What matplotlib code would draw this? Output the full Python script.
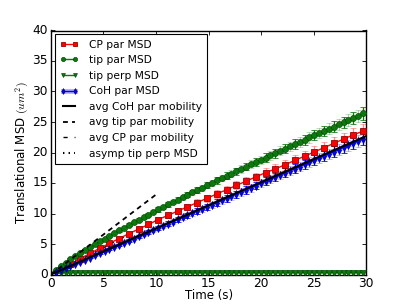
import numpy as np
import matplotlib
matplotlib.use("Agg")
import matplotlib.pyplot as plt

plt.style.use('classic')
plt.rcParams['figure.facecolor'] = 'white'
plt.rcParams['savefig.facecolor'] = 'white'
plt.rcParams['font.family'] = ['DejaVu Sans']

# --- data ---
t_fine = np.arange(1, 65) * 0.464        # time points for 0.5 s series
t_cp = np.arange(1, 33) * 0.928          # time points for CP series

cp_par = [0.9, 1.75, 2.6, 3.45, 4.3, 5.1, 5.9, 6.7, 7.45, 8.2, 9.0,
          9.7, 10.4, 11.1, 11.8, 12.5, 13.2, 13.9, 14.6, 15.3, 16.0, 16.7,
          17.3, 18.0, 18.7, 19.4, 20.1, 20.8, 21.5, 22.2, 22.9, 23.5]
cp_err = [0.03, 0.07, 0.10, 0.14, 0.17, 0.21, 0.24, 0.27, 0.31, 0.34, 0.38,
          0.41, 0.45, 0.48, 0.51, 0.55, 0.58, 0.62, 0.65, 0.69, 0.72, 0.75,
          0.79, 0.82, 0.86, 0.89, 0.93, 0.96, 0.99, 1.03, 1.06, 1.10]

tip_par = [0.80, 1.40, 1.95, 2.50, 3.00, 3.50, 4.00, 4.48, 4.95, 5.43,
           5.89, 6.35, 6.80, 7.25, 7.69, 8.13, 8.56, 8.99, 9.41, 9.83,
           10.25, 10.66, 11.07, 11.48, 11.88, 12.29, 12.68, 13.08, 13.47, 13.87,
           14.26, 14.64, 15.03, 15.41, 15.80, 16.18, 16.55, 16.93, 17.30, 17.68,
           18.06, 18.43, 18.80, 19.17, 19.54, 19.91, 20.28, 20.65, 21.01, 21.38,
           21.74, 22.10, 22.46, 22.82, 23.17, 23.53, 23.89, 24.24, 24.60, 24.95,
           25.30, 25.65, 26.05, 26.40]
tip_par_err = [0.02, 0.03, 0.05, 0.06, 0.08, 0.09, 0.11, 0.13, 0.14, 0.16,
               0.17, 0.19, 0.21, 0.22, 0.24, 0.25, 0.27, 0.28, 0.30, 0.32,
               0.33, 0.35, 0.36, 0.38, 0.39, 0.41, 0.43, 0.44, 0.46, 0.47,
               0.49, 0.50, 0.52, 0.54, 0.55, 0.57, 0.58, 0.60, 0.62, 0.63,
               0.65, 0.66, 0.68, 0.69, 0.71, 0.73, 0.74, 0.76, 0.77, 0.79,
               0.80, 0.82, 0.84, 0.85, 0.87, 0.88, 0.90, 0.91, 0.93, 0.95,
               0.96, 0.98, 0.99, 1.01]

tip_perp = [0.20, 0.27, 0.30, 0.31, 0.30, 0.31, 0.30, 0.31, 0.31, 0.30,
            0.31, 0.30, 0.31, 0.31, 0.30, 0.31, 0.30, 0.30, 0.31, 0.31,
            0.30, 0.31, 0.30, 0.31, 0.31, 0.30, 0.31, 0.30, 0.31, 0.30,
            0.31, 0.31, 0.30, 0.31, 0.30, 0.31, 0.31, 0.30, 0.31, 0.30,
            0.31, 0.30, 0.31, 0.31, 0.30, 0.31, 0.30, 0.31, 0.30, 0.31,
            0.31, 0.30, 0.31, 0.30, 0.31, 0.31, 0.30, 0.31, 0.30, 0.31,
            0.30, 0.31, 0.31, 0.30]
tip_perp_err = [0.03, 0.05, 0.06, 0.07, 0.07, 0.08, 0.08, 0.08, 0.09, 0.09,
                0.09, 0.09, 0.10, 0.10, 0.10, 0.10, 0.10, 0.10, 0.10, 0.10,
                0.11, 0.11, 0.11, 0.11, 0.11, 0.11, 0.11, 0.11, 0.11, 0.11,
                0.12, 0.12, 0.12, 0.12, 0.12, 0.12, 0.12, 0.12, 0.12, 0.12,
                0.12, 0.12, 0.12, 0.12, 0.12, 0.12, 0.12, 0.12, 0.12, 0.12,
                0.13, 0.13, 0.13, 0.13, 0.13, 0.13, 0.13, 0.13, 0.13, 0.13,
                0.13, 0.13, 0.13, 0.13]

coh_par = [0.35, 0.69, 1.04, 1.39, 1.74, 2.08, 2.43, 2.78, 3.12, 3.47,
           3.82, 4.17, 4.51, 4.86, 5.21, 5.55, 5.90, 6.25, 6.59, 6.94,
           7.29, 7.64, 7.98, 8.33, 8.68, 9.02, 9.37, 9.72, 10.07, 10.41,
           10.76, 11.11, 11.45, 11.80, 12.15, 12.50, 12.84, 13.19, 13.54, 13.88,
           14.23, 14.58, 14.93, 15.27, 15.62, 15.97, 16.31, 16.66, 17.01, 17.36,
           17.70, 18.05, 18.40, 18.74, 19.09, 19.44, 19.78, 20.13, 20.48, 20.83,
           21.17, 21.52, 21.87, 22.21]
coh_par_err = [0.02, 0.03, 0.05, 0.06, 0.08, 0.09, 0.11, 0.12, 0.14, 0.15,
               0.17, 0.18, 0.20, 0.21, 0.23, 0.24, 0.26, 0.28, 0.29, 0.31,
               0.32, 0.34, 0.35, 0.37, 0.38, 0.40, 0.41, 0.43, 0.44, 0.46,
               0.47, 0.49, 0.51, 0.52, 0.54, 0.55, 0.57, 0.58, 0.60, 0.61,
               0.63, 0.64, 0.66, 0.67, 0.69, 0.70, 0.72, 0.74, 0.75, 0.77,
               0.78, 0.80, 0.81, 0.83, 0.84, 0.86, 0.87, 0.89, 0.90, 0.92,
               0.93, 0.95, 0.97, 0.98]

# fitted mobility lines: [start, end] in time and MSD
coh_fit_t = [0, 30]
coh_fit_y = [0, 22.7]
tip_fit_t = [0, 10]
tip_fit_y = [0, 13.1]
cp_fit_t = [0, 10]
cp_fit_y = [0, 8.8]
perp_asymp_t = [0, 30]
perp_asymp_y = [0.33, 0.33]

labels = ['CP par MSD', 'tip par MSD', 'tip perp MSD', 'CoH par MSD',
          'avg CoH par mobility', 'avg tip par mobility',
          'avg CP par mobility', 'asymp tip perp MSD']

# --- figure ---
fig = plt.figure(figsize=(4.07, 3.05), dpi=100)
ax = fig.add_axes([0.125, 0.1, 0.775, 0.8])

green = (0.05, 0.47, 0.05)

# light error bars on all points, darker on every other point
def errs(x, y, e, color, light_alpha=0.35, dark_every=2, dark=True):
    x = np.asarray(x); y = np.asarray(y); e = np.asarray(e)
    _, caps, bars = ax.errorbar(x, y, yerr=e, fmt='none', ecolor=color,
                                capsize=2, elinewidth=0.9, zorder=2)
    for c in caps:
        c.set_alpha(light_alpha)
    for b in bars:
        b.set_alpha(light_alpha)
    if dark:
        ax.errorbar(x[1::dark_every], y[1::dark_every], yerr=e[1::dark_every],
                    fmt='none', ecolor=color, capsize=2, elinewidth=0.9, zorder=2)

errs(t_cp, cp_par, cp_err, 'r', light_alpha=0.45, dark=False)
errs(t_fine, tip_par, tip_par_err, green)
errs(t_fine, tip_perp, tip_perp_err, green, light_alpha=0.3, dark=False)
errs(t_fine, coh_par, coh_par_err, 'b')

l_cpfit, = ax.plot(cp_fit_t, cp_fit_y, color='k', ls='-.', lw=1, zorder=1)
l_cp, = ax.plot(t_cp, cp_par, color='r', marker='s', ms=5.0, lw=1,
                mec=(0.6, 0, 0), mew=0.6, zorder=3)
l_tip, = ax.plot(t_fine, tip_par, color=green, marker='o', ms=4.3, lw=1,
                 mec=(0, 0.3, 0), mew=0.5, zorder=3)
l_perp, = ax.plot(t_fine, tip_perp, color=green, marker='v', ms=4.0, lw=1,
                  mec=(0, 0.3, 0), mew=0.5, zorder=3)
l_coh_bg, = ax.plot(t_fine, coh_par, color='b', lw=3.5, alpha=0.3, zorder=2)
l_coh, = ax.plot(t_fine, coh_par, color='b', marker='d', ms=4.2, lw=1,
                 mec=(0, 0, 0.5), mew=0.5, zorder=3)
l_cohfit, = ax.plot(coh_fit_t, coh_fit_y, color='k', ls='-', lw=1.5, zorder=4)
l_tipfit, = ax.plot(tip_fit_t, tip_fit_y, color='k', lw=1.3, zorder=4,
                    dashes=(3.5, 3))
l_perpfit, = ax.plot(perp_asymp_t, perp_asymp_y, color='k', ls=':', lw=1.5, zorder=1)

ax.set_xlim(0, 30)
ax.set_ylim(0, 40)
ax.set_xticks(np.arange(0, 31, 5))
ax.set_yticks(np.arange(0, 41, 5))
ax.tick_params(labelsize=8.8, length=3, width=0.6, direction='in', pad=2)
ax.set_xlabel('Time (s)', fontsize=8.5, labelpad=-1)
ax.set_ylabel(r'Translational MSD $(um^2)$', fontsize=8.5, labelpad=1)

handles = [l_cp, l_tip, l_perp, (l_coh_bg, l_coh), l_cohfit, l_tipfit,
           l_cpfit, l_perpfit]
leg = ax.legend(handles, labels, loc='upper left', fontsize=7.7, numpoints=2,
                markerscale=0.7, handlelength=1.7, borderpad=0.5,
                labelspacing=0.52, handletextpad=1.0, borderaxespad=0.35)
leg.get_frame().set_linewidth(0.8)

fig.savefig('out.png', dpi=100)
